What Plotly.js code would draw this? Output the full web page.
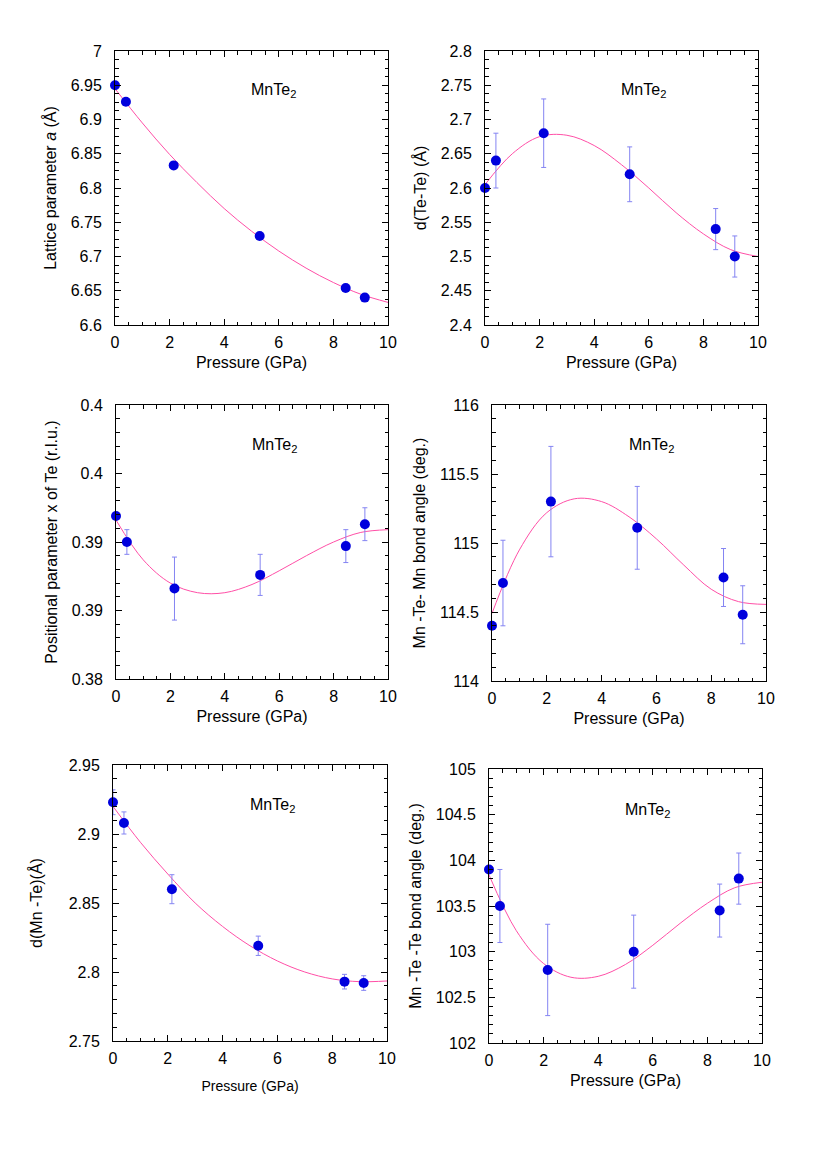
<!DOCTYPE html>
<html>
<head>
<meta charset="utf-8">
<script src="https://cdn.plot.ly/plotly-3.0.1.min.js"></script>
<style>
  html, body { margin: 0; padding: 0; background: #ffffff; }
  #chart { width: 827px; height: 1170px; }
</style>
</head>
<body>
<div id="chart"></div>
<script>
// ---------------- data ----------------
const pressure = [0, 0.4, 2.15, 5.3, 8.45, 9.15];
const fitPressure = [0, 1, 2, 3, 4, 5, 6, 7, 8, 9, 10];

const latticeA = [6.950, 6.926, 6.833, 6.730, 6.654, 6.640];
const latticeAFit = [6.945, 6.895, 6.849, 6.808, 6.770, 6.737, 6.708, 6.683, 6.662, 6.645, 6.633];

const dTeTe = [2.60, 2.64, 2.68, 2.62, 2.54, 2.50];
const dTeTeErr = [0, 0.04, 0.05, 0.04, 0.03, 0.03];
const dTeTeFit = [2.605, 2.650, 2.675, 2.677, 2.662, 2.634, 2.600, 2.564, 2.533, 2.510, 2.500];

const posX = [0.3919, 0.3900, 0.3866, 0.3876, 0.3897, 0.3913];
const posXErr = [0, 0.0009, 0.0023, 0.0015, 0.0012, 0.0012];
const posXFit = [0.3916, 0.3887, 0.3870, 0.3863, 0.3863, 0.3869, 0.3879, 0.3890, 0.3900, 0.3907, 0.3909];

const angleMnTeMn = [114.40, 114.71, 115.30, 115.11, 114.75, 114.48];
const angleMnTeMnErr = [0, 0.31, 0.40, 0.30, 0.21, 0.21];
const angleMnTeMnFit = [114.49, 114.95, 115.22, 115.32, 115.30, 115.19, 115.03, 114.84, 114.665, 114.575, 114.555];

const dMnTe = [2.923, 2.908, 2.860, 2.819, 2.793, 2.792];
const dMnTeErr = [0.009, 0.008, 0.0105, 0.007, 0.0053, 0.0053];
const dMnTeFit = [2.920, 2.894, 2.871, 2.850, 2.833, 2.819, 2.808, 2.800, 2.795, 2.793, 2.7935];

const angleMnTeTe = [103.90, 103.50, 102.80, 103.00, 103.45, 103.80];
const angleMnTeTeErr = [0, 0.4, 0.5, 0.4, 0.29, 0.28];
const angleMnTeTeFit = [103.84, 103.23, 102.87, 102.72, 102.73, 102.86, 103.07, 103.31, 103.53, 103.70, 103.76];

const yTitles = [
  'Lattice parameter <i>a</i> (Å)',
  'd(Te-Te) (Å)',
  'Positional parameter x of Te (r.l.u.)',
  'Mn -Te- Mn bond angle (deg.)',
  'd(Mn -Te)(Å)',
  'Mn -Te -Te bond angle (deg.)'
];
const xTitle = 'Pressure (GPa)';
const sampleLabel = 'MnTe<sub>2</sub>';

const posXTickVals = [0.38, 0.385, 0.39, 0.395, 0.40];
const posXTickText = ['0.38', '0.39', '0.39', '0.4', '0.4'];

// ---------------- panel configuration ----------------
const W = 827, H = 1170;
const panels = [
  {y: latticeA, err: null, fit: latticeAFit, box: [115, 388, 51, 325], yr: [6.6, 7.0], dt: 0.05, mdt: 0.0125, lab: [249, 91], ystand: 10, xstand: 6, xfs: 16},
  {y: dTeTe, err: dTeTeErr, fit: dTeTeFit, box: [485, 758, 51, 325], yr: [2.4, 2.8], dt: 0.05, mdt: 0.0125, lab: [619, 91], ystand: 10, xstand: 6, xfs: 16},
  {y: posX, err: posXErr, fit: posXFit, box: [116, 388, 405, 679], yr: [0.38, 0.40], dt: 0.005, mdt: 0.001, lab: [250, 445], ystand: 10, xstand: 6, xfs: 16, tv: posXTickVals, tt: posXTickText},
  {y: angleMnTeMn, err: angleMnTeMnErr, fit: angleMnTeMnFit, box: [492, 766, 405, 681], yr: [114, 116], dt: 0.5, mdt: 0.1, lab: [627, 445], ystand: 10, xstand: 6, xfs: 16},
  {y: dMnTe, err: dMnTeErr, fit: dMnTeFit, box: [113, 387, 765, 1041], yr: [2.75, 2.95], dt: 0.05, mdt: 0.01, lab: [248, 805], ystand: 22, xstand: 14, xfs: 14},
  {y: angleMnTeTe, err: angleMnTeTeErr, fit: angleMnTeTeFit, box: [489, 762, 769, 1043], yr: [102, 105], dt: 0.5, mdt: 0.1, lab: [623, 810], ystand: 10, xstand: 6, xfs: 16}
];

const FONT = 'Liberation Sans, Arial, Helvetica, sans-serif';
const traces = [];
const layout = {
  width: W, height: H,
  margin: {l: 0, r: 0, t: 0, b: 0},
  paper_bgcolor: '#ffffff', plot_bgcolor: '#ffffff',
  showlegend: false,
  font: {family: FONT, size: 16, color: '#000000'},
  annotations: []
};

panels.forEach((p, i) => {
  const n = i + 1;
  const xa = n === 1 ? 'x' : 'x' + n;
  const ya = n === 1 ? 'y' : 'y' + n;
  const xk = n === 1 ? 'xaxis' : 'xaxis' + n;
  const yk = n === 1 ? 'yaxis' : 'yaxis' + n;

  traces.push({
    x: fitPressure, y: p.fit, xaxis: xa, yaxis: ya,
    type: 'scatter', mode: 'lines',
    line: {color: '#ff4fa7', width: 1, shape: 'spline', smoothing: 1},
    hoverinfo: 'skip'
  });
  const pts = {
    x: pressure, y: p.y, xaxis: xa, yaxis: ya,
    type: 'scatter', mode: 'markers', cliponaxis: false,
    marker: {color: '#0000dd', size: 10}
  };
  if (p.err) {
    pts.error_y = {type: 'data', array: p.err, visible: true, color: '#8484f2', thickness: 1, width: 2.5};
  }
  traces.push(pts);

  const [x0, x1, y0, y1] = p.box;
  const common = {
    showline: true, linecolor: '#000000', linewidth: 1, mirror: 'ticks',
    ticks: 'inside', ticklen: 6, tickwidth: 1, tickcolor: '#000000',
    showgrid: false, zeroline: false, fixedrange: true,
    tickfont: {family: FONT, size: 16, color: '#000000'}
  };
  layout[xk] = Object.assign({}, common, {
    domain: [x0 / W, x1 / W], anchor: ya,
    range: [0, 10], tick0: 0, dtick: 2,
    ticklabelstandoff: 3,
    minor: {dtick: 0.5, ticks: 'inside', ticklen: 3.5, tickwidth: 1, tickcolor: '#000000'},
    title: {text: xTitle, font: {family: FONT, size: p.xfs, color: '#000000'}, standoff: p.xstand}
  });
  const yax = Object.assign({}, common, {
    domain: [1 - y1 / H, 1 - y0 / H], anchor: xa,
    range: p.yr, tick0: p.yr[0], dtick: p.dt,
    ticklabelstandoff: 9,
    minor: {dtick: p.mdt, tick0: p.yr[0], ticks: 'inside', ticklen: 3.5, tickwidth: 1, tickcolor: '#000000'},
    title: {text: yTitles[i], font: {family: FONT, size: 16, color: '#000000'}, standoff: p.ystand}
  });
  if (p.tv) { yax.tickmode = 'array'; yax.tickvals = p.tv; yax.ticktext = p.tt; }
  layout[yk] = yax;

  layout.annotations.push({
    text: sampleLabel, xref: 'paper', yref: 'paper',
    x: p.lab[0] / W, y: 1 - p.lab[1] / H, xanchor: 'left', yanchor: 'middle',
    showarrow: false, font: {family: FONT, size: 16, color: '#000000'}
  });
});

Plotly.newPlot('chart', traces, layout, {staticPlot: true, displayModeBar: false});
</script>
</body>
</html>
